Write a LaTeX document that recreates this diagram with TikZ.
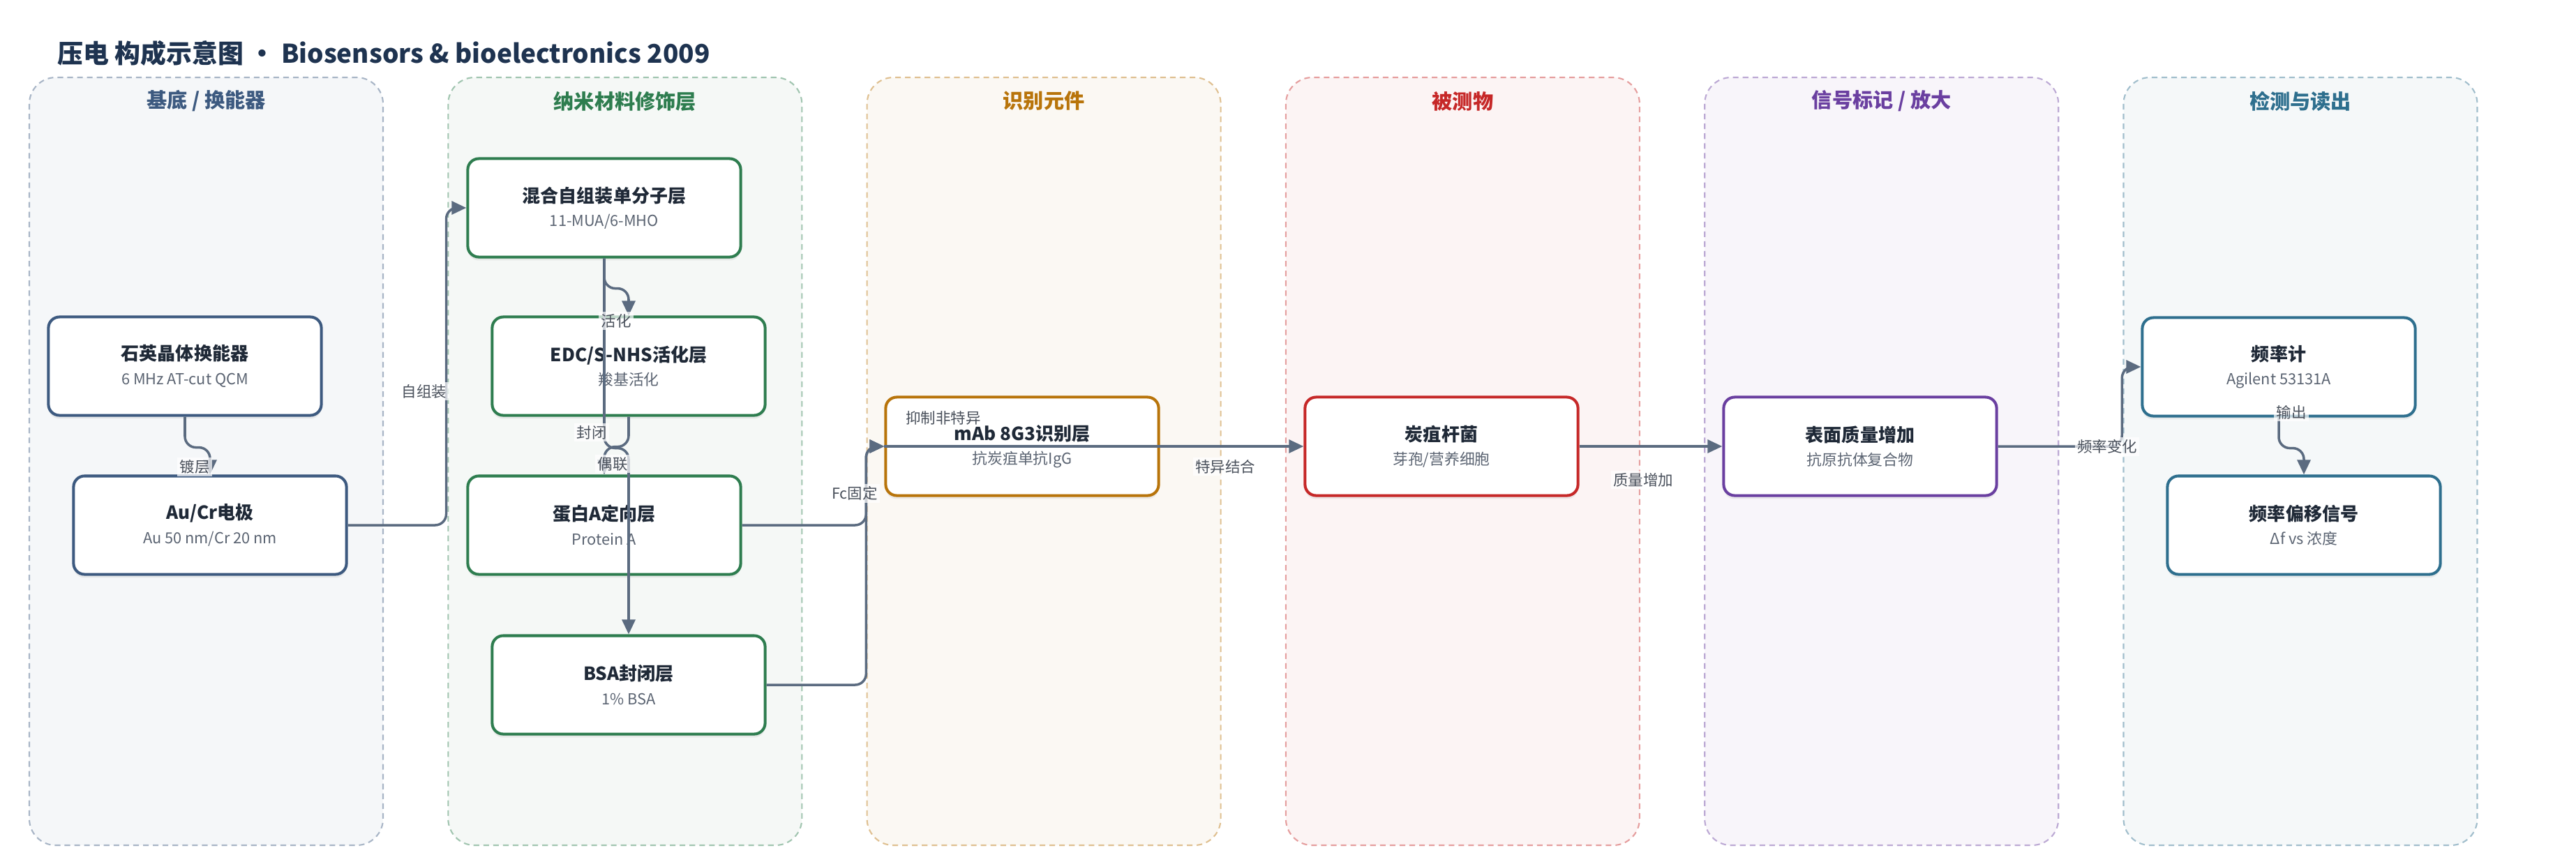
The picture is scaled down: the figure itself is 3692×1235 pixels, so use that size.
\documentclass[tikz,border=0pt]{standalone}
\usepackage{fontspec}
\setmainfont{Noto Sans CJK SC}
\usetikzlibrary{arrows.meta,shadows}
\definecolor{cA}{HTML}{3D5A80}
\definecolor{cB}{HTML}{2E7D4F}
\definecolor{cC}{HTML}{B8740A}
\definecolor{cD}{HTML}{C62828}
\definecolor{cE}{HTML}{6A3FA0}
\definecolor{cF}{HTML}{2E6F8E}
\definecolor{ink}{HTML}{1F2937}
\definecolor{subink}{HTML}{5B6472}
\definecolor{wire}{HTML}{5B6B80}
\definecolor{headink}{HTML}{1E3350}
\newcommand\boxtxt[2]{{\fontsize{7.4}{9}\selectfont\bfseries\color{ink}#1}\\[-2.2pt]{\fontsize{6.2}{8}\selectfont\color{subink}#2}}
\begin{document}
\begin{tikzpicture}[x=0.01cm, y=-0.01cm,
  lane/.style={draw=#1!45, fill=#1!5, line width=0.6pt, dash pattern=on 2.3pt off 1.7pt, rounded corners=10.8pt},
  lanetitle/.style={text=#1, font=\fontsize{8.3}{10}\selectfont\bfseries},
  box/.style={draw=#1, fill=white, line width=1.15pt, rounded corners=4.5pt, minimum width=3.91cm, minimum height=1.41cm, align=center, drop shadow={shadow xshift=0pt, shadow yshift=-1.4pt, opacity=0.12}},
  conn/.style={draw=wire, line width=1pt, rounded corners=4.5pt, -{Triangle[length=6pt,width=5.4pt]}},
  lbl/.style={fill=white, fill opacity=0.7, text opacity=1, text=subink!80!black, inner sep=1pt, font=\fontsize{6.1}{7}\selectfont}]
  \useasboundingbox (0,0) rectangle (3692,1235);
  % lanes
  \foreach \i/\t/\c in {0/{基底 / 换能器}/cA,1/纳米材料修饰层/cB,2/识别元件/cC,3/被测物/cD,4/{信号标记 / 放大}/cE,5/检测与读出/cF}{
    \draw[lane=\c] ({42+600.3*\i},111) rectangle ++(507,1101);
    \node[lanetitle=\c] (lt\i) at ({295.5+600.3*\i},145) {\t};
  }
  \node[anchor=west, text=headink, font=\fontsize{10.5}{13}\selectfont\bfseries] (title) at (70,76) {压电 构成示意图 • Biosensors \& bioelectronics 2009};
  % nodes
  \node[box=cA] (quartz) at (265,525) {\boxtxt{石英晶体换能器}{6 MHz AT-cut QCM}};
  \node[box=cA] (elec) at (301,753) {\boxtxt{Au/Cr电极}{Au 50 nm/Cr 20 nm}};
  \node[box=cB] (sam) at (866,298) {\boxtxt{混合自组装单分子层}{11-MUA/6-MHO}};
  \node[box=cB] (edc) at (901,525) {\boxtxt{EDC/S-NHS活化层}{羧基活化}};
  \node[box=cB] (prot) at (866,753) {\boxtxt{蛋白A定向层}{Protein A}};
  \node[box=cB] (bsa) at (901,982) {\boxtxt{BSA封闭层}{1\% BSA}};
  \node[box=cC] (mab) at (1465,640) {\boxtxt{mAb 8G3识别层}{抗炭疽单抗IgG}};
  \node[box=cD] (anth) at (2066,640) {\boxtxt{炭疽杆菌}{芽孢/营养细胞}};
  \node[box=cE] (surf) at (2666,640) {\boxtxt{表面质量增加}{抗原抗体复合物}};
  \node[box=cF] (freq) at (3266,526) {\boxtxt{频率计}{Agilent 53131A}};
  \node[box=cF] (shift) at (3302,753) {\boxtxt{频率偏移信号}{Δf vs 浓度}};
  % connectors
  \draw[conn] (quartz.south) -- ++(0,44) -| (elec.north);
  \draw[conn] (elec.east) -| ([xshift=-8.2pt]sam.west) -- (sam.west);
  \draw[conn] (sam.south) -- ++(0,43) -| (edc.north);
  \draw[conn] (sam.south) -- ++(0,272) -| (bsa.north);
  \draw[conn] (edc.south) -- ++(0,43) -| (prot.north);
  \draw[conn] (prot.east) -| ([xshift=-7.4pt]mab.west) -- (mab.west);
  \draw[conn] (bsa.east) -| ([xshift=-7.4pt]mab.west) -- (mab.west);
  \draw[conn] (mab.west) -- (anth.west);
  \draw[conn] (anth.east) -- (surf.west);
  \draw[conn] (surf.east) -| ([xshift=-7.7pt]freq.west) -- (freq.west);
  \draw[conn] (freq.south) -- ++(0,44) -| (shift.north);
  % labels
  \node[lbl] (l1) at (279,669) {镀层};
  \node[lbl] (l2) at (608,561) {自组装};
  \node[lbl] (l3) at (883,460) {活化};
  \node[lbl] (l4) at (848,620) {封闭};
  \node[lbl] (l5) at (878,665) {偶联};
  \node[lbl] (l6) at (1225,707) {Fc固定};
  \node[lbl] (l7) at (1352,599) {抑制非特异};
  \node[lbl] (l8) at (1756,669) {特异结合};
  \node[lbl] (l9) at (2355,688) {质量增加};
  \node[lbl] (l10) at (3020,640) {频率变化};
  \node[lbl] (l11) at (3284,591) {输出};
\end{tikzpicture}
\end{document}
